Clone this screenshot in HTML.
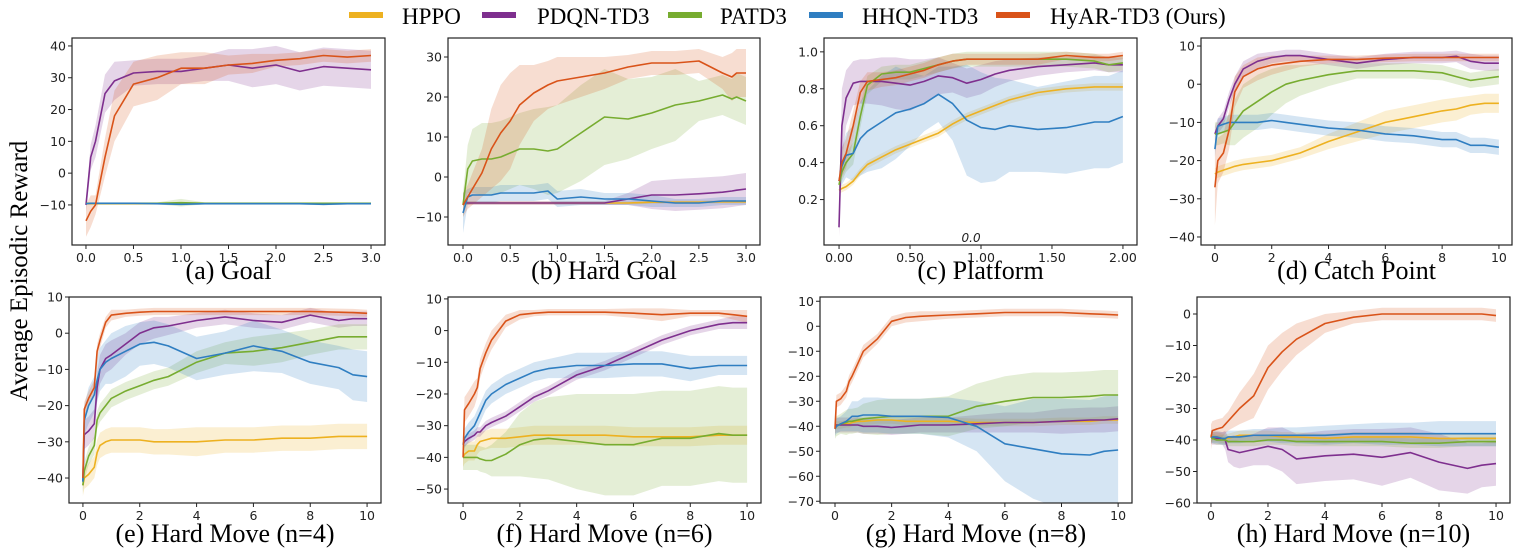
<!DOCTYPE html>
<html><head><meta charset="utf-8"><style>
html,body{margin:0;padding:0;background:#fff;}
svg{display:block;}
</style></head><body>
<svg id="fig" width="1539" height="555" viewBox="0 0 1539 555" xmlns="http://www.w3.org/2000/svg">
<g id="legend" font-family="Liberation Serif, serif" font-size="23" fill="#000">
  <g><rect x="349" y="12" width="34" height="6" fill="#EDB120"/><text x="402" y="24">HPPO</text></g>
  <g><rect x="482" y="12" width="34" height="6" fill="#7E2F8E"/><text x="537" y="24">PDQN-TD3</text></g>
  <g><rect x="668" y="12" width="34" height="6" fill="#77AC30"/><text x="720" y="24">PATD3</text></g>
  <g><rect x="809" y="12" width="34" height="6" fill="#2F7EC1"/><text x="862" y="24">HHQN-TD3</text></g>
  <g><rect x="996" y="12" width="34" height="6" fill="#D95319"/><text x="1050" y="24">HyAR-TD3 (Ours)</text></g>
</g>
<text transform="translate(27,271) rotate(-90)" text-anchor="middle" font-family="Liberation Serif, serif" font-size="25" fill="#000">Average Episodic Reward</text>
</svg>
<script>
// ---- panel (a) Goal ----
const aX = [0,0.05,0.1,0.2,0.3,0.5,0.75,1.0,1.25,1.5,1.75,2.0,2.25,2.5,2.75,3.0];
const aHyAR = [-15,-12,-10,5,18,28,30,33,33,34,34.5,35.5,36,37,36.5,37];
const aHyARs = [5,5,3,6,8,7,7,5,5,3,3,2,2,2,2,2];
const aPDQN = [-10,5,10,25,29,31.5,32,32,33,34,33,34,32,33.5,33,32.5];
const aPDQNs = [2,4,5,6,6,4,4,4,4,5,6,6,6,6,6,6];
const aHPPO = [-9.6,-9.6,-9.6,-9.6,-9.6,-9.6,-9.6,-9.6,-9.6,-9.6,-9.6,-9.6,-9.6,-9.6,-9.6,-9.6];
const aPATD3 = [-9.5,-9.5,-9.5,-9.5,-9.5,-9.5,-9.5,-9.3,-9.5,-9.5,-9.5,-9.5,-9.5,-9.5,-9.5,-9.5];
const aPATD3s = [0.3,0.3,0.3,0.3,0.3,0.3,0.3,1.2,0.3,0.3,0.3,0.3,0.3,0.3,0.3,0.3];
const aHHQN = [-9.6,-9.5,-9.5,-9.5,-9.5,-9.5,-9.6,-9.8,-9.6,-9.6,-9.6,-9.6,-9.6,-9.8,-9.6,-9.6];
const aSmall = [0.3,0.3,0.3,0.3,0.3,0.3,0.3,0.3,0.3,0.3,0.3,0.3,0.3,0.3,0.3,0.3];
const aYTicks = [-10,0,10,20,30,40];
const aXTicks = [0,0.5,1.0,1.5,2.0,2.5,3.0];
const aXLabels = ["0.0","0.5","1.0","1.5","2.0","2.5","3.0"];

// ---- panel (b) Hard Goal ----
const bX = [0,0.05,0.1,0.2,0.3,0.4,0.5,0.6,0.75,0.9,1.0,1.25,1.5,1.75,2.0,2.25,2.5,2.75,2.85,2.9,3.0];
const bHyAR = [-7,-5,-3,1,7,11,14,18,21,23,24,25,26,27.5,28.5,28.5,29,26,25,26,26];
const bHyARs = [3,3,4,6,10,12,12,10,7,6,6,5,4,3,3,3,3,4,6,6,6];
const bPATD3 = [-7,2,4,4.5,4.5,5,6,7,7,6.5,7,11,15,14.5,16,18,19,20.5,19.5,20,19];
const bPATD3s = [3,6,8,9,9,9,9,9,10,11,11,12,12,10,9,9,5,5,5,6,6];
const bHHQN = [-9,-5,-4.5,-4.5,-4.5,-4,-4,-4,-4,-3.5,-5.5,-5,-5.5,-5.5,-6,-6.5,-6.5,-6,-6,-6,-6];
const bHHQNs = [5,2,2,2,2,2,2,2,2,2,2,2,1.5,1.5,1.5,1,1,1,1,1,1];
const bPDQN = [-6.5,-6.5,-6.5,-6.5,-6.5,-6.5,-6.5,-6.5,-6.5,-6.5,-6.5,-6.5,-6.5,-5.5,-4.5,-4.5,-4.2,-3.8,-3.5,-3.3,-3];
const bPDQNs = [0.5,0.5,0.5,0.5,0.5,0.5,0.5,0.5,0.5,0.5,0.5,0.5,0.5,1.5,3.5,4,4,4,4,4,4];
const bHPPO = [-6.8,-6.5,-6.5,-6.5,-6.5,-6.5,-6.5,-6.5,-6.5,-6.5,-6.5,-6.5,-6.5,-6.5,-6.3,-6.3,-6.3,-6.2,-6.2,-6.2,-6.2];
const bHPPOs = [0.4,0.4,0.4,0.4,0.4,0.4,0.4,0.4,0.4,0.4,0.4,0.4,0.4,0.4,0.4,0.4,0.4,0.4,0.4,0.4,0.4];
const bYTicks = [-10,0,10,20,30];

// ---- panel (c) Platform ----
const cX = [0,0.02,0.05,0.1,0.15,0.2,0.3,0.4,0.5,0.6,0.7,0.8,0.9,1.0,1.1,1.2,1.4,1.6,1.8,1.9,2.0];
const cHyAR = [0.3,0.4,0.45,0.6,0.78,0.84,0.85,0.86,0.88,0.9,0.93,0.95,0.96,0.96,0.96,0.96,0.96,0.98,0.97,0.97,0.98];
const cHyARs = [0.05,0.08,0.08,0.08,0.06,0.05,0.04,0.04,0.04,0.04,0.04,0.04,0.03,0.03,0.03,0.03,0.03,0.02,0.02,0.02,0.02];
const cPATD3 = [0.28,0.35,0.4,0.45,0.65,0.82,0.88,0.89,0.89,0.91,0.93,0.95,0.96,0.96,0.96,0.96,0.96,0.96,0.95,0.93,0.94];
const cPATD3s = [0.04,0.05,0.05,0.06,0.06,0.05,0.04,0.04,0.04,0.04,0.04,0.04,0.04,0.04,0.04,0.04,0.04,0.04,0.04,0.04,0.04];
const cPDQN = [0.05,0.6,0.75,0.83,0.84,0.84,0.84,0.83,0.82,0.84,0.87,0.86,0.83,0.85,0.88,0.9,0.92,0.93,0.94,0.93,0.93];
const cPDQNs = [0.05,0.2,0.15,0.12,0.12,0.12,0.13,0.14,0.14,0.12,0.1,0.08,0.08,0.08,0.07,0.06,0.05,0.04,0.04,0.04,0.04];
const cHHQN = [0.3,0.38,0.44,0.45,0.53,0.57,0.62,0.67,0.69,0.72,0.77,0.72,0.63,0.59,0.58,0.6,0.58,0.59,0.62,0.62,0.65];
const cHHQNs = [0.05,0.1,0.12,0.15,0.2,0.22,0.25,0.25,0.2,0.15,0.15,0.2,0.3,0.3,0.28,0.25,0.23,0.25,0.25,0.25,0.25];
const cHPPO = [0.25,0.26,0.27,0.3,0.35,0.39,0.43,0.47,0.5,0.53,0.56,0.61,0.65,0.68,0.71,0.74,0.78,0.8,0.81,0.81,0.81];
const cHPPOs = [0.02,0.02,0.02,0.02,0.02,0.02,0.02,0.02,0.02,0.02,0.02,0.02,0.02,0.02,0.02,0.02,0.02,0.02,0.02,0.02,0.02];
const cYTicks = [0.2,0.4,0.6,0.8,1.0];
const cYLabels = ["0.2","0.4","0.6","0.8","1.0"];
const cXTicks = [0,0.5,1.0,1.5,2.0];
const cXLabels = ["0.00","0.50","1.00","1.50","2.00"];

// ---- panel (d) Catch Point ----
const dX = [0,0.1,0.3,0.5,0.7,1,1.5,2,2.5,3,4,5,6,7,8,8.5,9,9.5,10];
const dHyAR = [-27,-20,-18,-12,-2,2,4,5,5.5,6,6.5,6.5,6.8,7,7,7,7,7,7];
const dHyARs = [10,6,5,5,4,3,3,2.5,2,1.5,1,1,1,1,1,1,1,1,1];
const dPDQN = [-13,-11,-9,-4,0,4,6,7,7.5,7.5,6.5,5.5,6.5,7,7,7.3,6,5.5,5.5];
const dPDQNs = [2,2,2,2,2,2,2,1.5,1.5,1.5,1.5,1.5,1.5,1.5,1.5,1.5,2,2,2];
const dPATD3 = [-13,-13,-12.5,-12,-10,-7,-4.5,-2,0,1,2.5,3.5,3.5,3.5,3,2,1,1.5,2];
const dPATD3s = [3,3,3,4,6,7,7,6,5,4,3,2,2,2,2,2,2,2,2];
const dHHQN = [-17,-11,-10.5,-10,-10,-10,-10,-9.5,-10,-10.5,-11.5,-12,-13,-13.5,-14.5,-14.5,-16,-16,-16.5];
const dHHQNs = [2,2,2,2,2,2,2,2,2,2,2,2,2,2,2,2,2,2,2];
const dHPPO = [-23.5,-23,-22.5,-22,-21.5,-21,-20.5,-20,-19,-18,-15,-12.5,-10,-8.5,-7,-6.5,-5.5,-5,-5];
const dHPPOs = [1.5,1.5,1.5,1.5,1.5,1.5,1.5,1.5,1.5,1.5,2,2.5,3,3,3,3,2.5,2.5,2.5];
const dYTicks = [-40,-30,-20,-10,0,10];
const tenTicks = [0,2,4,6,8,10];

// ---- panel (e) Hard Move n=4 ----
const eX = [0,0.05,0.2,0.4,0.5,0.6,0.8,1,1.5,2,2.5,3,4,5,6,7,8,9,9.5,10];
const eHyAR = [-40,-21,-18,-15,-5,-2,3,5,5.5,5.8,6,6,6,6,6,6,6,5.8,5.7,5.5];
const eHyARs = [2,2,2,2,2,2,1.5,1.5,1,1,1,1,1,1,1,1,1,1,1,1];
const ePDQN = [-41,-28,-27,-25,-15,-10,-7,-6,-3,0,1.5,2,3.5,4.5,3.5,3,5,3.5,4,4];
const ePDQNs = [3,4,4,4,4,4,4,4,3,3,3,2.5,2,2,2,2,2,2,2,2];
const eHHQN = [-41,-24,-20,-17,-13,-10,-8,-7,-5,-3,-2.5,-3.5,-7,-5.5,-3.5,-5,-8,-9.5,-11.5,-12];
const eHHQNs = [3,4,5,5,6,6,6,7,7,6,6,6,6,6,7,6,6,6,7,7];
const ePATD3 = [-42,-38,-34,-31,-24,-22,-20,-18,-16,-14.5,-13,-12,-8,-5.5,-5,-4,-2.5,-1,-1,-1];
const ePATD3s = [2.5,2.5,2.5,2.5,2.5,2.5,2.5,2.5,2.5,2.5,2.5,2.5,3,3,4,4,3.5,3.5,3.5,3.5];
const eHPPO = [-42,-40,-39,-37,-33,-31,-30,-29.5,-29.5,-29.5,-30,-30,-30,-29.5,-29.5,-29,-29,-28.5,-28.5,-28.5];
const eHPPOs = [3,3,3,3,3.5,3.5,3.5,3.5,3.5,3.5,3.5,3.5,4,3.5,3.5,3.5,3.5,3.5,3.5,3.5];
const eYTicks = [-40,-30,-20,-10,0,10];

// ---- panel (f) Hard Move n=6 ----
const fHyAR = [-40,-25,-23,-20,-18,-12,-7,-3,3,5,5.5,5.8,5.8,5.8,5.5,5,5.5,5.5,5,4.5];
const fHyARs = [4,4,4,4,3,3,3,3,2,1.5,1,1,1,1,1.5,2,1,1,1.5,2];
const fPDQN = [-36,-35,-34,-33,-32,-32,-30,-29,-27,-24,-21,-19,-14,-11,-7,-3,0,2,2.5,2.5];
const fPDQNs = [1.5,1.5,1.5,1.5,1.5,1.5,1.5,1.5,1.5,1.5,1.5,1.5,1.5,1.5,1.5,1.5,1.5,1.5,2,2];
const fHHQN = [-36,-34,-32,-30,-28,-26,-22,-20,-17,-15,-13,-12,-11,-11,-10.5,-10.5,-12,-11,-11,-11];
const fHHQNs = [3,3,3,3,3,3,3,3,3,3,3,3,4,4,4,4,4,3,3,3];
const fPATD3 = [-40,-40,-40,-40,-40,-40.5,-41,-41,-39,-36,-34.5,-34,-35,-36,-36,-34,-34,-32.5,-33,-33];
const fPATD3s = [4,4,4,4,4,4,4,5,7,10,12,13,15,16,16,15,15,15,15,15];
const fHPPO = [-40,-39,-38,-38,-36,-35,-34.5,-34,-34,-33.5,-33,-33,-33,-33,-33.5,-33.5,-33.5,-33,-33,-33];
const fHPPOs = [3,3,3,3,3,3,3,3,3,3,3,3,3,3,3,3,3,3,3,3];
const fYTicks = [-50,-40,-30,-20,-10,0,10];

// ---- panel (g) Hard Move n=8 ----
const gHyAR = [-41,-30,-29,-26,-22,-20,-15,-10,-5,2,3.5,4,4.5,5,5.5,5.5,5.5,5,4.8,4.5];
const gHyARs = [3,2.5,2.5,2.5,2.5,2.5,2.5,2.5,2,2,2,2,1.5,1.5,1.5,1.5,1.5,1.5,1.5,1.5];
const gPATD3 = [-41,-40,-39,-38.5,-38,-38,-37.5,-37,-36.5,-36,-36,-36,-36,-32,-30,-28.5,-28.5,-28,-27.5,-27.5];
const gPATD3s = [4,4,4,5,5,5,5,6,7,7,7,7,8,9,10,10,10,10,10,10];
const gHHQN = [-41,-40,-39,-38,-37,-36,-36,-35.5,-35.5,-36,-36,-36,-36.5,-40,-47,-49,-51,-51.5,-50,-49.5];
const gHHQNs = [3,3,3,4,5,6,6,7,7,7,7,7,8,10,15,20,22,22,22,22];
const gPDQN = [-40,-39.5,-39.5,-39.5,-39.5,-39.5,-39.5,-40,-40,-40.5,-40,-39.5,-39.5,-39,-38.5,-38.5,-38,-37.5,-37.5,-37];
const gPDQNs = [3,3,3,3,3,3,3,3,3,3,3,3,3,3.5,4,4,5,5,5,5];
const gHPPO = [-40,-39.5,-39.5,-39,-39,-38.5,-38,-38,-37.5,-37.5,-38,-38,-38,-38.5,-38.5,-38.5,-38,-38,-37.5,-37.5];
const gHPPOs = [1.5,1.5,1.5,1.5,1.5,1.5,1.5,1.5,1.5,1.5,1.5,1.5,1.5,1.5,1.5,1.5,1.5,1.5,1.5,1.5];
const gYTicks = [-70,-60,-50,-40,-30,-20,-10,0,10];

// ---- panel (h) Hard Move n=10 ----
const hHyAR = [-39,-37,-36.5,-36,-35,-34,-32,-30,-26,-17,-12,-8,-3,-1,0,0,0,0,0,-0.5];
const hHyARs = [4,3,3,3,3,3,4,5,7,7,6,5,3,2,2,2,2,2,2,2];
const hHHQN = [-39,-39,-39,-39.5,-39.5,-39,-39,-39,-38.5,-38.5,-38.5,-38.5,-38.5,-38,-38,-38,-38,-38,-38,-38];
const hHHQNs = [2,2,2,2,2,2,2,2,2,2,2.5,2.5,3,3,3.5,3.5,4,4,4,4];
const hHPPO = [-39,-39,-39,-39.5,-39.5,-39.5,-39,-38.5,-38.5,-38.5,-39,-39,-39.5,-39,-39,-39,-39.5,-39.5,-39.5,-39.5];
const hHPPOs = [1.5,1.5,1.5,1.5,1.5,1.5,1.5,1.5,1.5,1.5,1.5,1.5,1.5,1.5,1.5,1.5,1.5,1.5,1.5,1.5];
const hPATD3 = [-39,-39.5,-40,-40,-40,-40.5,-40.5,-40.5,-40.5,-40,-40,-40.5,-40.5,-40.5,-40.5,-41,-41,-40.5,-40.5,-40.5];
const hPATD3s = [1.5,1.5,1.5,1.5,1.5,1.5,1.5,1.5,1.5,1.5,1.5,1.5,1.5,1.5,1.5,1.5,1.5,1.5,1.5,1.5];
const hPDQN = [-39,-39.5,-39.5,-39.5,-40,-43,-43.5,-44,-43,-42,-43,-46,-45,-44.5,-45.5,-44,-47,-49,-48,-47.5];
const hPDQNs = [2,2,2,2,3,4,5,5,5,6,7,8,8,8,9,8,9,8,7,7];
const hYTicks = [-60,-50,-40,-30,-20,-10,0];

const COL = {HPPO:"#EDB120", PDQN:"#7E2F8E", PATD3:"#77AC30", HHQN:"#2F7EC1", HyAR:"#D95319"};
const NS = "http://www.w3.org/2000/svg";
const svg = document.getElementById('fig');
function el(t, a){ const e=document.createElementNS(NS,t); for(const k in a) e.setAttribute(k,a[k]); return e; }
function fmt(v){ return (v<0?"\u2212":"")+Math.abs(v); }

const panels = [
 {id:'a', title:'(a) Goal', box:[72,38,385,245], xd:[-0.147,3.147], yd:[-22.6,42.5], x:aX, xt:aXTicks, xl:aXLabels, yt:aYTicks,
  s:[['HPPO',aHPPO,aSmall],['PDQN',aPDQN,aPDQNs],['PATD3',aPATD3,aPATD3s],['HHQN',aHHQN,aSmall],['HyAR',aHyAR,aHyARs]]},
 {id:'b', title:'(b) Hard Goal', box:[448,38,760,245], xd:[-0.159,3.148], yd:[-17,34.75], x:bX, xt:aXTicks, xl:aXLabels, yt:bYTicks,
  s:[['HPPO',bHPPO,bHPPOs],['PDQN',bPDQN,bPDQNs],['PATD3',bPATD3,bPATD3s],['HHQN',bHHQN,bHHQNs],['HyAR',bHyAR,bHyARs]]},
 {id:'c', title:'(c) Platform', box:[824,38,1137,245], xd:[-0.106,2.099], yd:[-0.046,1.075], x:cX, xt:cXTicks, xl:cXLabels, yt:cYTicks, yl:cYLabels,
  s:[['HPPO',cHPPO,cHPPOs],['PDQN',cPDQN,cPDQNs],['PATD3',cPATD3,cPATD3s],['HHQN',cHHQN,cHHQNs],['HyAR',cHyAR,cHyARs]]},
 {id:'d', title:'(d) Catch Point', box:[1201,38,1512,245], xd:[-0.49,10.46], yd:[-42.1,12.1], x:dX, xt:tenTicks, yt:dYTicks,
  s:[['HPPO',dHPPO,dHPPOs],['PDQN',dPDQN,dPDQNs],['PATD3',dPATD3,dPATD3s],['HHQN',dHHQN,dHHQNs],['HyAR',dHyAR,dHyARs]]},
 {id:'e', title:'(e) Hard Move (n=4)', box:[69,297,381,503], xd:[-0.49,10.49], yd:[-46.9,10], x:eX, xt:tenTicks, yt:eYTicks,
  s:[['HPPO',eHPPO,eHPPOs],['PDQN',ePDQN,ePDQNs],['PATD3',ePATD3,ePATD3s],['HHQN',eHHQN,eHHQNs],['HyAR',eHyAR,eHyARs]]},
 {id:'f', title:'(f) Hard Move (n=6)', box:[448,297,761,503], xd:[-0.53,10.49], yd:[-54.4,10.6], x:eX, xt:tenTicks, yt:fYTicks,
  s:[['HPPO',fHPPO,fHPPOs],['PDQN',fPDQN,fPDQNs],['PATD3',fPATD3,fPATD3s],['HHQN',fHHQN,fHHQNs],['HyAR',fHyAR,fHyARs]]},
 {id:'g', title:'(g) Hard Move (n=8)', box:[820,297,1132,503], xd:[-0.53,10.49], yd:[-70.7,11.7], x:eX, xt:tenTicks, yt:gYTicks,
  s:[['HPPO',gHPPO,gHPPOs],['PDQN',gPDQN,gPDQNs],['PATD3',gPATD3,gPATD3s],['HHQN',gHHQN,gHHQNs],['HyAR',gHyAR,gHyARs]]},
 {id:'h', title:'(h) Hard Move (n=10)', box:[1197,297,1510,503], xd:[-0.49,10.49], yd:[-60,5.4], x:eX, xt:tenTicks, yt:hYTicks,
  s:[['HPPO',hHPPO,hHPPOs],['PDQN',hPDQN,hPDQNs],['PATD3',hPATD3,hPATD3s],['HHQN',hHHQN,hHHQNs],['HyAR',hHyAR,hHyARs]]}
];

panels.forEach(p=>{
  const [L,T,R,B]=p.box;
  const sx=v=>L+(v-p.xd[0])/(p.xd[1]-p.xd[0])*(R-L);
  const sy=v=>B-(v-p.yd[0])/(p.yd[1]-p.yd[0])*(B-T);
  const g=el('g',{});
  
  
  svg.appendChild(g);
  const cid='clip-'+p.id;
  const cp=el('clipPath',{id:cid}); cp.appendChild(el('rect',{x:L,y:T,width:R-L,height:B-T})); g.appendChild(cp);
  const plot=el('g',{'clip-path':'url(#'+cid+')'}); g.appendChild(plot);
  p.s.forEach(([name,m,sd])=>{
    let up=p.x.map((x,i)=>sx(x).toFixed(1)+','+sy(m[i]+sd[i]).toFixed(1));
    let dn=p.x.map((x,i)=>sx(x).toFixed(1)+','+sy(m[i]-sd[i]).toFixed(1)).reverse();
    const band=el('polygon',{points:up.concat(dn).join(' '),fill:COL[name],'fill-opacity':0.2,stroke:'none'});
    
    
    plot.appendChild(band);
  });
  p.s.forEach(([name,m])=>{
    const pts=p.x.map((x,i)=>sx(x).toFixed(1)+','+sy(m[i]).toFixed(1)).join(' ');
    const line=el('polyline',{points:pts,fill:'none',stroke:COL[name],'stroke-width':1.6,'stroke-linejoin':'round'});
    
    
    plot.appendChild(line);
  });
  const frame=el('rect',{x:L,y:T,width:R-L,height:B-T,fill:'none',stroke:'#222','stroke-width':1.2});
  
  
  g.appendChild(frame);
  p.xt.forEach((v,i)=>{
    const X=sx(v);
    g.appendChild(el('line',{x1:X,x2:X,y1:B,y2:B+4,stroke:'#222','stroke-width':1}));
    const t=el('text',{x:X,y:B+17,'text-anchor':'middle','font-family':'DejaVu Sans, sans-serif','font-size':12.5,fill:'#222'});
    t.textContent=p.xl?p.xl[i]:String(v);
    
    
    g.appendChild(t);
  });
  p.yt.forEach((v,i)=>{
    const Y=sy(v);
    g.appendChild(el('line',{x1:L-4,x2:L,y1:Y,y2:Y,stroke:'#222','stroke-width':1}));
    const t=el('text',{x:L-6,y:Y+4.5,'text-anchor':'end','font-family':'DejaVu Sans, sans-serif','font-size':12.5,fill:'#222'});
    t.textContent=p.yl?p.yl[i]:fmt(v);
    
    
    g.appendChild(t);
  });
  const off = T<100 ? 34 : 39;
  const tt=el('text',{x:(L+R)/2,y:B+off,'text-anchor':'middle','font-family':'Liberation Serif, serif','font-size':26,fill:'#000'});
  tt.textContent=p.title;
  
  
  g.appendChild(tt);
  if(p.id==='c'){
    const z=el('text',{x:sx(0.93),y:B-3,'text-anchor':'middle','font-family':'DejaVu Sans, sans-serif','font-size':12,'font-style':'italic',fill:'#222'});
    z.textContent='0.0';
    
    
    g.appendChild(z);
  }
});
</script>
</body></html>
